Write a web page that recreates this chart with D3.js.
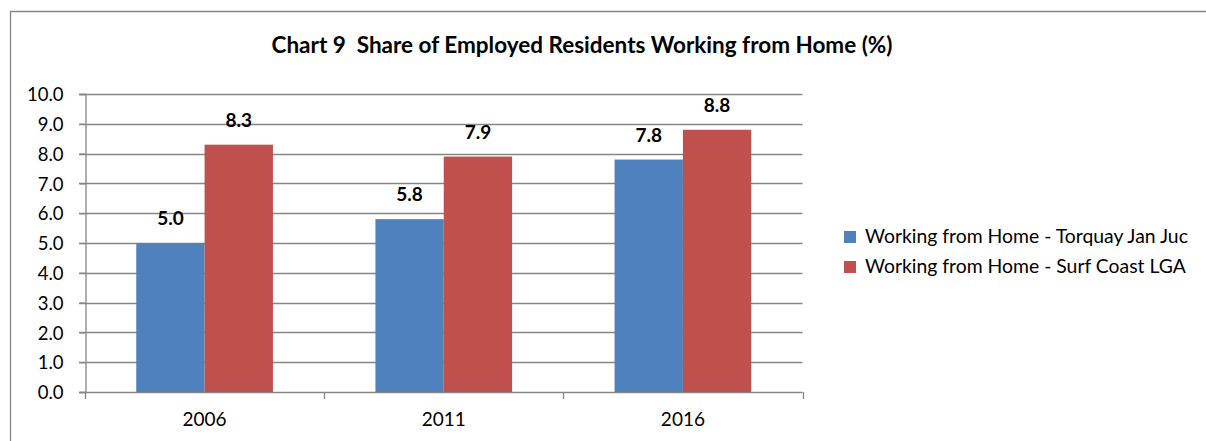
<!DOCTYPE html>
<html><head><meta charset="utf-8">
<script src="https://cdn.jsdelivr.net/npm/d3@7"></script>
<style>html,body{margin:0;padding:0;background:#fff;}svg{display:block;font-family:Lato,"Open Sans",sans-serif;}</style>
</head><body>
<svg id="c" width="1206" height="441"></svg>
<script>
const categories = ["2006", "2011", "2016"];
const seriesNames = ["Working from Home - Torquay Jan Juc", "Working from Home - Surf Coast LGA"];
const torquayJanJuc = [5.0, 5.8, 7.8];
const surfCoastLGA = [8.3, 7.9, 8.8];
const yTicks = [0,1,2,3,4,5,6,7,8,9,10];
const title = "Chart 9  Share of Employed Residents Working from Home (%)";
const colors = ["#4F81BD", "#C0504D"];
const series = [torquayJanJuc, surfCoastLGA];

const svg = d3.select("#c");
const grid = "#868686";
const plot = {l:85, r:802.5, t:94, b:392};

function fit(sel, w){
  const n = sel.node(); const cur = parseFloat(sel.attr("font-size"));
  const len = n.getComputedTextLength();
  sel.attr("font-size", (cur*w/len).toFixed(2));
}

// frame
svg.append("path").attr("d","M10.5,441 V11.5 H1206").attr("fill","none").attr("stroke",grid).attr("stroke-width",1.3);

const x = d3.scaleBand().domain(categories).range([plot.l, plot.r]).paddingInner(0).paddingOuter(0);
const y = d3.scaleLinear().domain([0,10]).range([plot.b, plot.t]);
const barW = x.bandwidth()/3.5;
const xs = d3.scaleBand().domain([0,1]).range([0, 2*barW]);

// gridlines
svg.append("g").selectAll("line").data(yTicks).join("line")
  .attr("x1", plot.l-6).attr("x2", plot.r).attr("y1", d=>Math.round(y(d))+0.5).attr("y2", d=>Math.round(y(d))+0.5)
  .attr("stroke", grid).attr("stroke-width",1.3);

// y axis
const yAxis = svg.append("g").attr("transform",`translate(${plot.l+0.5},0)`)
  .call(d3.axisLeft(y).tickValues(yTicks).tickFormat(d3.format(".1f")).tickSize(6).tickPadding(16));
yAxis.select(".domain").attr("stroke",grid).attr("stroke-width",1.3);
yAxis.selectAll(".tick line").attr("stroke",grid).attr("stroke-width",1.3);
yAxis.selectAll("text").attr("fill","#000").attr("dy","0.36em")
  .style("font-size","18.5px").style("font-family","Lato");

// bars
const g = svg.append("g");
series.forEach((vals, si) => {
  g.selectAll(".b"+si).data(vals).join("rect")
    .attr("x",(d,i)=> x(categories[i]) + x.bandwidth()/2 - barW + xs(si))
    .attr("width", barW)
    .attr("y", d=>y(d)).attr("height", d=>y(0)-y(d))
    .attr("fill", colors[si]);
  g.selectAll(".l"+si).data(vals).join("text")
    .attr("x",(d,i)=> x(categories[i]) + x.bandwidth()/2 - barW + xs(si) + barW/2)
    .attr("y", d=>y(d)-18)
    .attr("text-anchor","middle").attr("font-weight","bold").attr("font-size",19)
    .text(d=>d3.format(".1f")(d));
});

// x axis
const xAxis = svg.append("g").attr("transform",`translate(0,${plot.b+0.5})`)
  .call(d3.axisBottom(x).tickSize(0).tickPadding(20));
xAxis.select(".domain").remove();
xAxis.selectAll("text").attr("fill","#000").style("font-size","19px").style("font-family","Lato");
const bounds = categories.map(c=>x(c)).concat([plot.r]);
svg.append("g").selectAll("line").data(bounds).join("line")
  .attr("x1",d=>Math.round(d)+0.5).attr("x2",d=>Math.round(d)+0.5).attr("y1",plot.b).attr("y2",plot.b+7)
  .attr("stroke",grid).attr("stroke-width",1.3);

// title
const t = svg.append("text").attr("x",582).attr("y",53).attr("text-anchor","middle")
  .attr("font-weight","bold").attr("font-size",20).style("white-space","pre").attr("xml:space","preserve").text(title);
fit(t, 621);

// legend
const lg = svg.append("g");
seriesNames.forEach((n,i)=>{
  lg.append("rect").attr("x",844).attr("y",231+i*30).attr("width",12).attr("height",12).attr("fill",colors[i]);
  const tt = lg.append("text").attr("x",865).attr("y",243+i*30).attr("font-size",18).text(n);
  if(i===0) fit(tt, 323);
});
const fs0 = lg.select("text").attr("font-size");
lg.selectAll("text").attr("font-size", fs0);
</script>
</body></html>
